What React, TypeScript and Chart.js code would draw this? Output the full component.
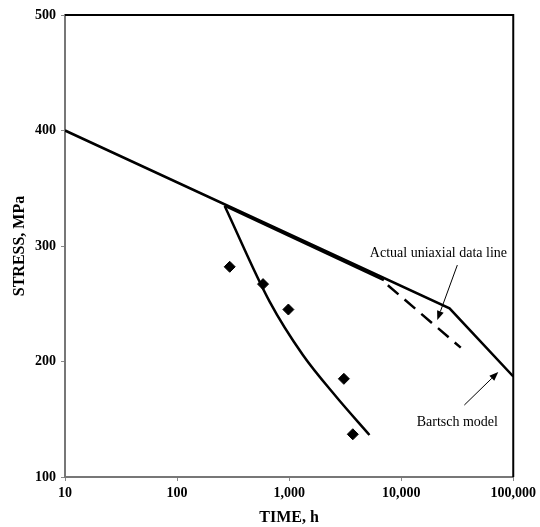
import React, { useEffect, useRef } from "react";
import { Chart, registerables } from "chart.js";

Chart.register(...registerables);

// Bartsch model line (time in h, stress in MPa)
const bartschTime = [10, 27000, 100000];
const bartschStress = [400, 246, 187];

// Actual uniaxial data line: solid part, then dashed continuation
const actualSolidTime = [265, 7000];
const actualSolidStress = [335, 270.5];
const actualDashTime = [7600, 34000];
const actualDashStress = [266, 212];

// Fitted curve through the test results
const curveTime = [266, 670, 1327, 2632, 5210];
const curveStress = [334.6, 251.8, 205.6, 169.5, 136.4];

// Test results
const testTime = [295, 585, 985, 3080, 3700];
const testStress = [282, 267, 245, 185, 137];

// Axis ticks
const timeTicks = [10, 100, 1000, 10000, 100000];
const stressTicks = [100, 200, 300, 400, 500];

// Annotation labels and arrows (data coordinates)
const labelTexts = ["Actual uniaxial data line", "Bartsch model"];
const labelTime = [21500, 31700];
const labelStress = [294, 147.6];
const arrowFromTime = [31700, 36600];
const arrowFromStress = [283.5, 162.3];
const arrowToTime = [21000, 73500];
const arrowToStress = [236, 190.9];

const toXY = (xs: number[], ys: number[]) => xs.map((x, i) => ({ x, y: ys[i] }));

const FONT = "'Liberation Serif', 'Times New Roman', serif";

const annotationPlugin = {
  id: "annotations",
  afterDatasetsDraw(chart: any) {
    const { ctx, scales, chartArea } = chart;
    const xs = scales.x;
    const ys = scales.y;
    ctx.save();
    // frame
    ctx.lineWidth = 2;
    ctx.strokeStyle = "#000";
    ctx.beginPath();
    ctx.moveTo(chartArea.left, chartArea.top);
    ctx.lineTo(chartArea.right, chartArea.top);
    ctx.lineTo(chartArea.right, chartArea.bottom);
    ctx.stroke();

    ctx.fillStyle = "#000";
    ctx.font = `14px ${FONT}`;
    ctx.textAlign = "center";
    ctx.textBaseline = "middle";
    labelTexts.forEach((t, i) => {
      ctx.fillText(t, xs.getPixelForValue(labelTime[i]), ys.getPixelForValue(labelStress[i]));
    });

    ctx.lineWidth = 1;
    arrowFromTime.forEach((_, i) => {
      const x1 = xs.getPixelForValue(arrowFromTime[i]);
      const y1 = ys.getPixelForValue(arrowFromStress[i]);
      const x2 = xs.getPixelForValue(arrowToTime[i]);
      const y2 = ys.getPixelForValue(arrowToStress[i]);
      const a = Math.atan2(y2 - y1, x2 - x1);
      const hl = 9;
      const hw = 3.5;
      const bx = x2 - hl * Math.cos(a);
      const by = y2 - hl * Math.sin(a);
      ctx.beginPath();
      ctx.moveTo(x1, y1);
      ctx.lineTo(bx, by);
      ctx.stroke();
      ctx.beginPath();
      ctx.moveTo(x2, y2);
      ctx.lineTo(bx + hw * Math.sin(a), by - hw * Math.cos(a));
      ctx.lineTo(bx - hw * Math.sin(a), by + hw * Math.cos(a));
      ctx.closePath();
      ctx.fill();
    });
    ctx.restore();
  },
};

export default function App() {
  const ref = useRef<HTMLCanvasElement>(null);

  useEffect(() => {
    if (!ref.current) return;
    const lineStyle = {
      borderColor: "#000",
      backgroundColor: "#000",
      borderWidth: 2.5,
      pointRadius: 0,
      showLine: true,
      fill: false,
    };
    const chart = new Chart(ref.current, {
      type: "scatter",
      data: {
        datasets: [
          { ...lineStyle, data: toXY(bartschTime, bartschStress) },
          { ...lineStyle, data: toXY(actualSolidTime, actualSolidStress) },
          { ...lineStyle, borderDash: [14, 8], data: toXY(actualDashTime, actualDashStress) },
          { ...lineStyle, tension: 0.4, cubicInterpolationMode: "monotone", data: toXY(curveTime, curveStress) },
          {
            data: toXY(testTime, testStress),
            showLine: false,
            pointStyle: "rectRot",
            pointRadius: 5.5,
            pointBackgroundColor: "#000",
            pointBorderColor: "#000",
          },
        ],
      },
      options: {
        animation: false,
        responsive: false,
        maintainAspectRatio: false,
        layout: { padding: { top: 15, right: 26, left: 0, bottom: 0 } },
        plugins: { legend: { display: false }, tooltip: { enabled: false } },
        scales: {
          x: {
            type: "logarithmic",
            min: 10,
            max: 100000,
            afterBuildTicks: (s: any) => {
              s.ticks = timeTicks.map((v) => ({ value: v }));
            },
            afterFit: (s: any) => {
              s.height = 50;
            },
            ticks: {
              color: "#000",
              font: { family: FONT, size: 14, weight: "bold" },
              padding: 4,
              maxRotation: 0,
              autoSkip: false,
              callback: (v: any) => Number(v).toLocaleString("en-US"),
            },
            grid: { drawOnChartArea: false, drawTicks: true, tickLength: 4, color: "#888" },
            border: { display: true, color: "#777", width: 2 },
            title: {
              display: true,
              text: "TIME, h",
              color: "#000",
              font: { family: FONT, size: 16, weight: "bold" },
              padding: { top: 1.5, bottom: 0 },
            },
          },
          y: {
            type: "linear",
            min: 100,
            max: 500,
            afterBuildTicks: (s: any) => {
              s.ticks = stressTicks.map((v) => ({ value: v }));
            },
            afterFit: (s: any) => {
              s.width = 65;
            },
            ticks: {
              color: "#000",
              font: { family: FONT, size: 14, weight: "bold" },
              padding: 5,
            },
            grid: { drawOnChartArea: false, drawTicks: true, tickLength: 4, color: "#888" },
            border: { display: true, color: "#777", width: 2 },
            title: {
              display: true,
              text: "STRESS, MPa",
              color: "#000",
              font: { family: FONT, size: 16, weight: "bold" },
              padding: { top: 10, bottom: 0 },
            },
          },
        },
      },
      plugins: [annotationPlugin],
    });
    return () => chart.destroy();
  }, []);

  return (
    <div style={{ position: "fixed", left: 0, top: 0, width: 540, height: 527, background: "#fff" }}>
      <canvas ref={ref} width={540} height={527} style={{ width: 540, height: 527, display: "block" }} />
    </div>
  );
}
